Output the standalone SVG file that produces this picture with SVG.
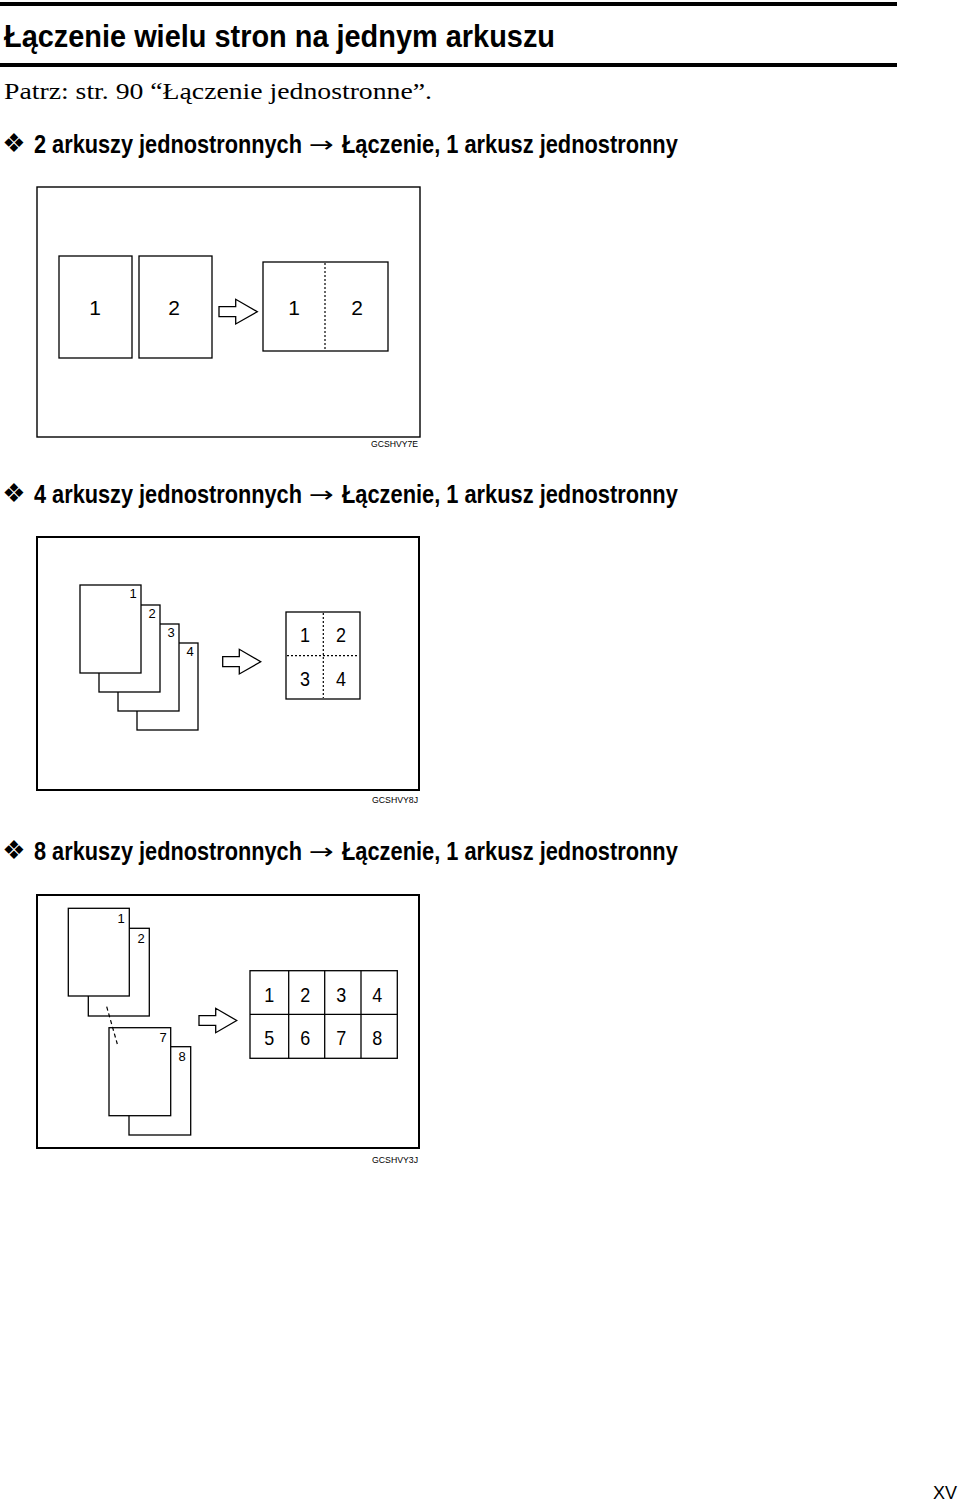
<svg xmlns="http://www.w3.org/2000/svg" width="960" height="1502" viewBox="0 0 960 1502">
<style>
.h1{font-family:"Liberation Sans",Arial,sans-serif;font-weight:bold;font-size:32px;fill:#000}
.sub{font-family:"Liberation Serif","Times New Roman",serif;font-size:24px;fill:#000}
.h2{font-family:"Liberation Sans",Arial,sans-serif;font-weight:bold;font-size:25px;fill:#000}
.ar{font-family:"DejaVu Sans",sans-serif;font-size:22px;fill:#000}
.dia{font-family:"DejaVu Sans",sans-serif;font-size:26px;fill:#000}
.frame{fill:#fff;stroke:#000;stroke-width:2}
.frame1{fill:#fff;stroke:#000;stroke-width:1.4}
.pg{fill:#fff;stroke:#000;stroke-width:1.3}
.dot{stroke:#000;stroke-width:1.2;stroke-dasharray:2 2;fill:none}
.dash{stroke:#000;stroke-width:1.2;stroke-dasharray:4 3;fill:none}
.arr{fill:#fff;stroke:#000;stroke-width:1.3;stroke-linejoin:miter}
.n{font-family:"Liberation Sans",Arial,sans-serif;font-size:21px;fill:#000;text-anchor:middle}
.nc{font-family:"Liberation Sans",Arial,sans-serif;font-size:21px;fill:#000;text-anchor:middle}
.ns{font-family:"Liberation Sans",Arial,sans-serif;font-size:13px;fill:#000;text-anchor:middle}
.lbl{font-family:"Liberation Sans",Arial,sans-serif;font-size:9.5px;fill:#000;text-anchor:end}
.pn{font-family:"Liberation Sans",Arial,sans-serif;font-size:18px;fill:#000}
</style>
<rect x="0" y="0" width="960" height="1502" fill="#fff"/>
<g id="header">
<rect x="0" y="2" width="897" height="4" fill="#000"/>
<text class="h1" x="4" y="47" textLength="551" lengthAdjust="spacingAndGlyphs">Łączenie wielu stron na jednym arkuszu</text>
<rect x="0" y="63" width="897" height="4" fill="#000"/>
<text class="sub" x="4" y="99" textLength="428" lengthAdjust="spacingAndGlyphs">Patrz: str. 90 “Łączenie jednostronne”.</text>
</g>

<g id="heading1">
<text class="dia" x="14" y="152" text-anchor="middle">❖</text>
<text class="h2" transform="translate(34,153) scale(0.87,1)" x="0" y="0" textLength="308" lengthAdjust="spacingAndGlyphs">2 arkuszy jednostronnych</text>
<text class="ar" x="309" y="152" textLength="25" lengthAdjust="spacingAndGlyphs">→</text>
<text class="h2" transform="translate(342,153) scale(0.87,1)" x="0" y="0" textLength="386" lengthAdjust="spacingAndGlyphs">Łączenie, 1 arkusz jednostronny</text>
</g>

<g id="diagram1">
<rect class="frame1" x="37" y="187" width="383" height="250"/>
<g id="d1-page1"><rect class="pg" x="59" y="256" width="73" height="102"/><text class="n" x="95" y="315">1</text></g>
<g id="d1-page2"><rect class="pg" x="139" y="256" width="73" height="102"/><text class="n" x="174" y="315">2</text></g>
<g id="d1-arrow"><path class="arr" d="M219,306.7 H235.7 V299.3 L257.3,311.7 L235.7,324 V316.7 H219 Z"/></g>
<g id="d1-result">
<rect class="pg" x="263" y="262" width="125" height="89"/>
<line class="dot" x1="325" y1="263" x2="325" y2="350"/>
<text class="n" x="294" y="315">1</text>
<text class="n" x="357" y="315">2</text>
</g>
<text class="lbl" x="418" y="447" textLength="47" lengthAdjust="spacingAndGlyphs">GCSHVY7E</text>
</g>

<g id="heading2">
<text class="dia" x="14" y="502" text-anchor="middle">❖</text>
<text class="h2" transform="translate(34,503) scale(0.87,1)" x="0" y="0" textLength="308" lengthAdjust="spacingAndGlyphs">4 arkuszy jednostronnych</text>
<text class="ar" x="309" y="502" textLength="25" lengthAdjust="spacingAndGlyphs">→</text>
<text class="h2" transform="translate(342,503) scale(0.87,1)" x="0" y="0" textLength="386" lengthAdjust="spacingAndGlyphs">Łączenie, 1 arkusz jednostronny</text>
</g>

<g id="diagram2">
<rect class="frame" x="37" y="537" width="382" height="253"/>
<g id="d2-page4"><rect class="pg" x="137" y="643" width="61" height="87"/><text class="ns" x="190" y="656">4</text></g>
<g id="d2-page3"><rect class="pg" x="118" y="624" width="61" height="87"/><text class="ns" x="171" y="637">3</text></g>
<g id="d2-page2"><rect class="pg" x="99" y="605" width="61" height="87"/><text class="ns" x="152" y="618">2</text></g>
<g id="d2-page1"><rect class="pg" x="80" y="585" width="61" height="88"/><text class="ns" x="133" y="598">1</text></g>
<g id="d2-arrow"><path class="arr" d="M222.7,656.7 H239.3 V649.3 L260.7,661.7 L239.3,674 V666.7 H222.7 Z"/></g>
<g id="d2-result">
<rect class="pg" x="286" y="612" width="74" height="87"/>
<line class="dot" x1="323.3" y1="613" x2="323.3" y2="698"/>
<line class="dot" x1="287" y1="655.7" x2="359" y2="655.7"/>
<text class="nc" x="305" y="642" textLength="10" lengthAdjust="spacingAndGlyphs">1</text>
<text class="nc" x="341" y="642" textLength="10" lengthAdjust="spacingAndGlyphs">2</text>
<text class="nc" x="305" y="686" textLength="10" lengthAdjust="spacingAndGlyphs">3</text>
<text class="nc" x="341" y="686" textLength="10" lengthAdjust="spacingAndGlyphs">4</text>
</g>
<text class="lbl" x="418" y="803" textLength="46" lengthAdjust="spacingAndGlyphs">GCSHVY8J</text>
</g>

<g id="heading3">
<text class="dia" x="14" y="859" text-anchor="middle">❖</text>
<text class="h2" transform="translate(34,860) scale(0.87,1)" x="0" y="0" textLength="308" lengthAdjust="spacingAndGlyphs">8 arkuszy jednostronnych</text>
<text class="ar" x="309" y="859" textLength="25" lengthAdjust="spacingAndGlyphs">→</text>
<text class="h2" transform="translate(342,860) scale(0.87,1)" x="0" y="0" textLength="386" lengthAdjust="spacingAndGlyphs">Łączenie, 1 arkusz jednostronny</text>
</g>

<g id="diagram3">
<rect class="frame" x="37" y="895" width="382" height="253"/>
<g id="d3-page2"><rect class="pg" x="88.3" y="928.3" width="61" height="87.7"/><text class="ns" x="141" y="943">2</text></g>
<g id="d3-page1"><rect class="pg" x="68.3" y="908.3" width="61" height="87.7"/><text class="ns" x="121" y="923">1</text></g>
<g id="d3-page8"><rect class="pg" x="129" y="1046.7" width="61.7" height="88.3"/><text class="ns" x="182" y="1061">8</text></g>
<g id="d3-page7"><rect class="pg" x="109" y="1027.7" width="61.7" height="88"/><text class="ns" x="163" y="1042">7</text></g>
<g id="connectors">
<line class="dash" x1="106.7" y1="1006.7" x2="117.3" y2="1044"/>
</g>
<g id="d3-arrow"><path class="arr" d="M199,1015.7 H215.7 V1008.3 L236.7,1020.5 L215.7,1032.7 V1025.3 H199 Z"/></g>
<g id="d3-result">
<rect class="pg" x="250" y="970.7" width="147.3" height="87.6"/>
<line class="pg" x1="288.7" y1="970.7" x2="288.7" y2="1058.3"/>
<line class="pg" x1="324.7" y1="970.7" x2="324.7" y2="1058.3"/>
<line class="pg" x1="361" y1="970.7" x2="361" y2="1058.3"/>
<line class="pg" x1="250" y1="1014.3" x2="397.3" y2="1014.3"/>
<text class="nc" x="269.3" y="1002" textLength="10" lengthAdjust="spacingAndGlyphs">1</text>
<text class="nc" x="305.3" y="1002" textLength="10" lengthAdjust="spacingAndGlyphs">2</text>
<text class="nc" x="341.3" y="1002" textLength="10" lengthAdjust="spacingAndGlyphs">3</text>
<text class="nc" x="377.3" y="1002" textLength="10" lengthAdjust="spacingAndGlyphs">4</text>
<text class="nc" x="269.3" y="1045" textLength="10" lengthAdjust="spacingAndGlyphs">5</text>
<text class="nc" x="305.3" y="1045" textLength="10" lengthAdjust="spacingAndGlyphs">6</text>
<text class="nc" x="341.3" y="1045" textLength="10" lengthAdjust="spacingAndGlyphs">7</text>
<text class="nc" x="377.3" y="1045" textLength="10" lengthAdjust="spacingAndGlyphs">8</text>
</g>
<text class="lbl" x="418" y="1163" textLength="46" lengthAdjust="spacingAndGlyphs">GCSHVY3J</text>
</g>

<text class="pn" x="933" y="1499">XV</text>
</svg>
